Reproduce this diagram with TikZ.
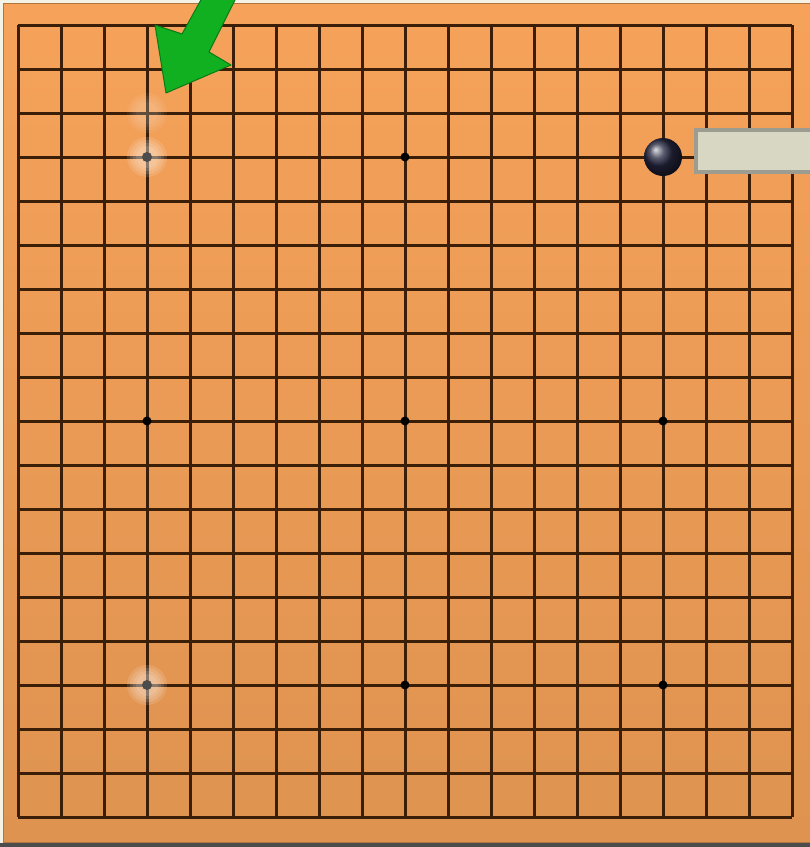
\documentclass[tikz,border=0pt]{standalone}
\begin{document}
\begin{tikzpicture}[x=1pt,y=-1pt,
  gridline/.style={draw=gridc,line width=3pt},
  star/.style={circle,fill=black,inner sep=0pt,minimum size=9pt},
  ghost/.style={circle,inner sep=0pt,fill=white,fill opacity=0.12,draw=none}]
\definecolor{gridc}{HTML}{3A1E08}
\definecolor{boardtop}{HTML}{F6A25A}
\definecolor{boardbot}{HTML}{DE9350}
\definecolor{bgcream}{HTML}{F4F3E6}
\definecolor{arrowg}{HTML}{10B020}
\definecolor{arrowd}{HTML}{0A7A18}
\definecolor{boxfill}{HTML}{D8D7C4}
\definecolor{boxedge}{HTML}{9C9C90}
\useasboundingbox (0,0) rectangle (810,847);
\fill[bgcream] (0,0) rectangle (810,847);
\shade[top color=boardtop,bottom color=boardbot] (3,3) rectangle (810,842);
\draw[boardbot!80!black,line width=1pt] (3,3) rectangle (810,842);
\fill[gray!60!black] (0,843) rectangle (810,847);
% grid
\foreach \i in {0,...,18}{
  \draw[gridline] (18+43*\i,25) -- (18+43*\i,817);
  \draw[gridline] (18,25+44*\i) -- (792,25+44*\i);
}
% star points
\foreach \cx in {3,9,15}{\foreach \cy in {3,9,15}{
  \node[star] (s\cx\cy) at (18+43*\cx,25+44*\cy) {};
}}
% ghost stones
\foreach \n/\px/\py/\k in {g1/147/157/1, g0/147/113/0.5, g2/147/685/1}{
  \foreach \r in {20,17,14,11}{
    \node[ghost,minimum size=\r*2pt,fill opacity=0.12*\k] (\n\r) at (\px,\py) {};
  }
}
\node[circle,fill=gray!60!black,inner sep=0pt,minimum size=10pt] (d1) at (147,157) {};
\node[circle,fill=gray!60!black,inner sep=0pt,minimum size=10pt] (d2) at (147,685) {};
% black stone
\node[circle,inner sep=0pt,minimum size=38pt,ball color=black!85!blue!70!gray] (bs) at (663,157) {};
% gray box
\node[draw=boxedge,line width=4pt,fill=boxfill,minimum width=124pt,minimum height=42pt,inner sep=0pt,anchor=west] (box) at (694,151) {};
% green arrow
\filldraw[fill=arrowg,draw=arrowd,line width=1pt,line join=round]
  (202,-2) -- (236,-2) -- (209,52) -- (231,65) -- (166,93) -- (155,25) -- (182,34) -- cycle;
\end{tikzpicture}
\end{document}
